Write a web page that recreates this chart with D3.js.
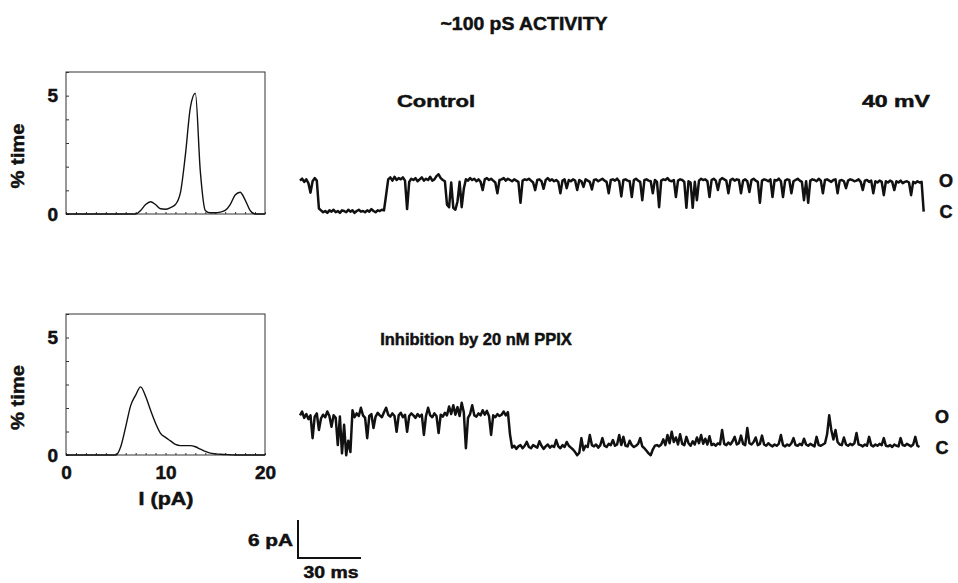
<!DOCTYPE html>
<html>
<head>
<meta charset="utf-8">
<script src="https://cdnjs.cloudflare.com/ajax/libs/d3/7.8.5/d3.min.js"></script>
<style>
body { margin: 0; background: #fff; }
text { font-family: "Liberation Sans", Arial, sans-serif; font-weight: bold; fill: #111; stroke: #111; stroke-width: 0.5px; }
</style>
</head>
<body>
<script>
// amplitude histogram bins (pA)
var binPA = [0,0.5,1,1.5,2,2.5,3,3.5,4,4.5,5,5.5,6,6.5,7,7.5,8,8.5,9,9.5,10,
             10.5,11,11.5,12,12.5,13,13.5,14,14.5,15,15.5,16,16.5,17,17.5,18,18.5,19,19.5,20];
// % time, control
var controlHist = [0,0,0,0,0,0,0,0,0,0,0,0,0,0,0,0.15,0.4,0.52,0.4,0.22,0.2,
                   0.27,0.4,0.9,2.5,4.5,5.1,1.8,0.15,0.05,0.05,0.08,0.15,0.4,0.8,0.92,0.6,0.15,0,0,0];
// % time, 20 nM PPIX
var ppixHist = [0,0,0,0,0,0,0,0,0,0,0,0.35,1.2,2.1,2.55,2.9,2.5,1.9,1.35,0.92,0.75,
                0.6,0.45,0.4,0.4,0.4,0.35,0.25,0.15,0.08,0.05,0.03,0.02,0.01,0,0,0,0,0,0,0];

var histYTicks = [0,1,2,3,4,5,6];
var histYLabels = [0,5];
var histXTicks = [0,1,2,3,4,5,6,7,8,9,10,11,12,13,14,15,16,17,18,19,20];
var histXLabels = [0,10,20];

// single channel current (pA), one sample per ms
var controlTrace = [
 4.8,5.1,4.6,5.0,4.4,2.9,4.7,5.2,4.8,0.4,
 0.1,-0.2,0.0,-0.3,0.1,-0.1,0.2,-0.2,0.0,-0.3,
 0.1,0.0,-0.2,0.2,-0.1,0.1,-0.3,0.0,0.2,-0.1,
 0.0,-0.2,0.1,-0.1,0.3,0.0,-0.2,0.1,0.0,0.2,
 0.1,2.5,5.0,5.3,4.8,5.4,4.9,5.2,5.0,5.3,
 4.8,0.3,4.6,5.1,4.9,5.2,4.7,5.0,5.3,4.8,
 5.1,4.9,5.4,4.8,5.0,5.5,5.8,5.2,4.9,4.7,
 1.0,0.6,4.5,0.5,0.2,1.5,4.6,0.6,3.5,5.0,
 4.8,5.2,4.9,5.1,4.7,5.0,4.6,3.3,5.0,5.2,
 4.9,5.1,4.8,4.5,2.8,4.9,5.0,5.2,4.8,5.1,
 4.9,4.7,5.0,4.8,4.6,1.3,4.8,5.0,4.9,5.1,
 4.8,4.5,3.3,4.9,5.0,4.7,3.5,4.9,5.2,4.8,
 5.0,4.7,4.9,4.6,2.8,4.8,5.0,3.6,4.9,4.7,
 5.0,4.8,3.3,4.9,4.7,3.8,5.0,4.8,4.6,3.4,
 4.9,5.0,4.7,4.9,5.1,4.8,4.6,2.8,4.9,5.0,
 4.8,5.1,4.7,2.3,4.9,5.0,4.8,4.7,2.2,4.9,
 5.1,4.8,4.6,1.7,4.9,5.0,4.8,4.7,2.8,4.9,
 4.6,0.6,4.8,5.0,4.9,5.2,4.8,4.7,4.9,2.2,
 4.8,5.0,4.9,4.6,0.5,4.7,4.5,0.5,4.6,1.7,
 4.8,5.1,4.9,5.0,4.7,2.2,4.9,5.1,4.8,3.3,
 4.9,5.2,5.0,4.8,2.8,4.9,5.1,4.8,5.0,4.9,
 2.8,4.8,5.0,4.7,3.0,4.9,5.1,4.8,4.6,1.3,
 4.8,5.0,4.9,4.7,5.0,2.2,4.9,4.8,5.1,4.7,
 2.2,4.8,5.0,4.9,2.8,4.7,4.9,5.1,4.8,4.6,
 1.7,4.7,1.3,4.8,5.0,4.9,4.7,5.1,4.8,2.8,
 4.9,5.0,4.8,4.6,4.9,5.0,2.8,4.8,4.9,4.7,
 3.6,4.8,5.0,4.9,4.7,4.8,5.0,4.6,3.3,4.8,
 4.9,4.6,4.8,2.8,4.7,4.5,4.8,4.6,2.5,4.7,
 4.5,4.8,4.6,3.3,4.7,4.5,4.8,4.4,4.6,4.7,
 4.5,2.5,4.6,4.4,4.7,4.5,4.6,-0.1
];
var ppixTrace = [
 5.0,5.6,4.6,5.2,4.4,5.0,1.4,4.8,5.3,2.7,
 4.5,5.1,4.7,5.6,4.9,3.2,5.0,4.6,0.3,4.8,
 -1.0,3.5,-1.3,1.0,-0.8,5.8,4.7,5.3,4.9,6.2,
 5.0,4.6,1.4,4.9,5.2,3.0,4.8,5.4,5.0,4.7,
 5.5,6.2,5.1,4.8,5.3,4.9,2.4,5.0,5.4,4.7,
 5.1,2.4,4.9,5.3,5.0,4.6,5.2,4.8,5.1,1.9,
 4.9,6.2,5.0,4.7,5.3,4.9,2.2,5.1,4.8,5.4,
 5.0,6.4,5.2,6.6,5.1,6.3,4.9,7.0,5.5,-0.2,
 4.6,5.2,6.6,5.0,4.8,5.3,5.0,5.8,5.1,5.7,
 4.9,1.9,5.0,4.7,5.2,4.9,5.1,5.6,5.0,5.5,
 2.0,-0.1,0.2,-0.3,0.1,0.3,-0.2,0.2,0.8,0.0,
 -0.2,0.3,0.1,-0.1,0.9,0.2,-0.3,0.1,0.4,-0.1,
 0.2,0.0,1.1,0.1,-0.2,0.3,0.0,0.8,0.2,-0.1,
 -0.4,-0.8,-1.3,-0.9,1.4,-0.5,0.2,0.0,1.9,0.3,
 0.1,0.4,-0.1,0.3,1.4,0.2,0.0,0.5,0.3,1.1,
 0.2,0.4,1.9,0.3,1.6,0.2,0.1,1.0,0.3,0.0,
 0.2,0.5,1.4,0.1,-0.2,-0.6,-1.0,-1.3,-0.4,0.2,
 0.3,0.1,0.4,1.2,0.3,1.9,0.6,2.4,0.8,1.5,
 0.4,2.0,0.5,0.3,1.6,0.6,0.2,0.9,0.4,1.5,
 0.6,1.9,0.5,1.3,0.4,1.7,0.3,0.5,0.2,0.6,
 0.4,2.7,0.5,0.3,0.7,0.4,0.9,1.6,0.4,0.6,
 1.8,0.5,0.3,3.0,0.6,0.4,0.8,1.5,0.3,0.5,
 1.8,0.4,0.2,0.6,0.3,0.1,0.4,0.2,0.5,1.9,
 0.3,0.1,0.4,0.2,0.6,1.4,0.3,0.2,0.5,0.3,
 1.3,0.4,0.2,0.5,0.3,0.1,1.6,0.3,0.2,0.4,
 0.6,2.0,5.0,2.7,1.2,2.7,0.8,0.4,0.3,1.5,
 0.4,0.2,0.5,0.3,0.6,2.2,0.4,0.3,0.1,0.4,
 0.2,1.6,0.3,0.1,0.4,0.2,0.5,0.3,1.4,0.2,
 0.1,0.3,0.0,0.4,0.2,0.1,1.4,0.3,0.2,0.5,
 0.3,0.1,0.4,1.6,0.2,0.0
];

var w = 958, h = 583;
var svg = d3.select("body").append("svg").attr("width", w).attr("height", h);

// bold label, stretched to the width it has in the figure
var label = function(x, y, str, size, len, anchor)
{
    var t = svg.append("text").attr("x", x).attr("y", y)
        .attr("text-anchor", anchor || "middle")
        .style("font-size", size + "px").text(str);
    if (len) t.attr("textLength", len).attr("lengthAdjust", "spacingAndGlyphs");
    return t;
}

label(524, 30, "~100 pS ACTIVITY", 18, 167);

// histograms
var xH = d3.scaleLinear().domain([0, 20]).range([66, 265]);

var drawHist = function(values, top, bottom, showX)
{
    var yH = d3.scaleLinear().domain([0, 6]).range([bottom, top]);
    var g = svg.append("g");

    g.append("rect").attr("x", xH(0)).attr("y", yH(6))
     .attr("width", xH(20) - xH(0)).attr("height", yH(0) - yH(6))
     .attr("fill", "none").attr("stroke", "#333").attr("stroke-width", 1);

    g.append("g").attr("transform", "translate(" + xH(0) + ",0)")
        .call(d3.axisLeft(yH).tickValues(histYTicks).tickSize(-3).tickPadding(8)
              .tickFormat(function(d) { return histYLabels.indexOf(d) >= 0 ? d : ""; }));
    g.append("g").attr("transform", "translate(0," + yH(0) + ")")
        .call(d3.axisBottom(xH).tickValues(histXTicks).tickSize(-2).tickPadding(11)
              .tickFormat(function(d) { return showX && histXLabels.indexOf(d) >= 0 ? d : ""; }));
    g.selectAll(".domain").remove();
    g.selectAll(".tick line").attr("stroke", "#333");
    g.selectAll(".tick text").style("font-size", "19px").attr("font-family", null).attr("fill", "#111");

    var line = d3.line()
        .x(function(d, i) { return xH(binPA[i]); })
        .y(function(d) { return yH(d); })
        .curve(d3.curveMonotoneX);
    g.append("path").datum(values).attr("d", line)
     .attr("fill", "none").attr("stroke", "#111").attr("stroke-width", 1.4);

    g.append("text")
     .attr("transform", "translate(24," + ((top + bottom) / 2 + 13) + ") rotate(-90)")
     .attr("text-anchor", "middle").style("font-size", "19px")
     .attr("textLength", 65).attr("lengthAdjust", "spacingAndGlyphs")
     .text("% time");
}

drawHist(controlHist, 72, 214, false);
drawHist(ppixHist, 314, 455, true);

label(166, 505, "I (pA)", 18, 55);

// traces
var xT = d3.scaleLinear().domain([0, 300]).range([300, 930]);

var drawTrace = function(values, zeroY)
{
    var yT = d3.scaleLinear().domain([0, 6]).range([zeroY, zeroY - 38]);
    var line = d3.line()
        .x(function(d, i) { return xT(i); })
        .y(function(d) { return yT(d); });
    svg.append("path").datum(values).attr("d", line)
       .attr("fill", "none").attr("stroke", "#111").attr("stroke-width", 2.5)
       .attr("stroke-linejoin", "round");
    return yT;
}

var yTop = drawTrace(controlTrace, 211);
var yBot = drawTrace(ppixTrace, 447);

label(436, 107, "Control", 17, 78);
label(930, 107, "40 mV", 17, 68, "end");
label(476, 345, "Inhibition by 20 nM PPIX", 16.5);

var levels = [["O", 946, yTop(4.9)], ["C", 946, yTop(0)], ["O", 942, yBot(4.9)], ["C", 942, yBot(0)]];
svg.selectAll(".lvl").data(levels).enter().append("text")
   .attr("x", function(d) { return d[1]; })
   .attr("y", function(d) { return d[2] + 7; })
   .attr("text-anchor", "middle").style("font-size", "18px")
   .text(function(d) { return d[0]; });

// scale bar: 6 pA / 30 ms
var sbX = 298, sbY = 558;
var sbY0 = d3.scaleLinear().domain([0, 6]).range([sbY, sbY - 38]);
svg.append("path")
   .attr("d", "M" + sbX + "," + sbY0(6) + "V" + sbY0(0) + "H" + (sbX + xT(30) - xT(0)))
   .attr("fill", "none").attr("stroke", "#111").attr("stroke-width", 2);
label(293, 546, "6 pA", 17, 45, "end");
label(331, 578, "30 ms", 17, 55);
</script>
</body>
</html>
